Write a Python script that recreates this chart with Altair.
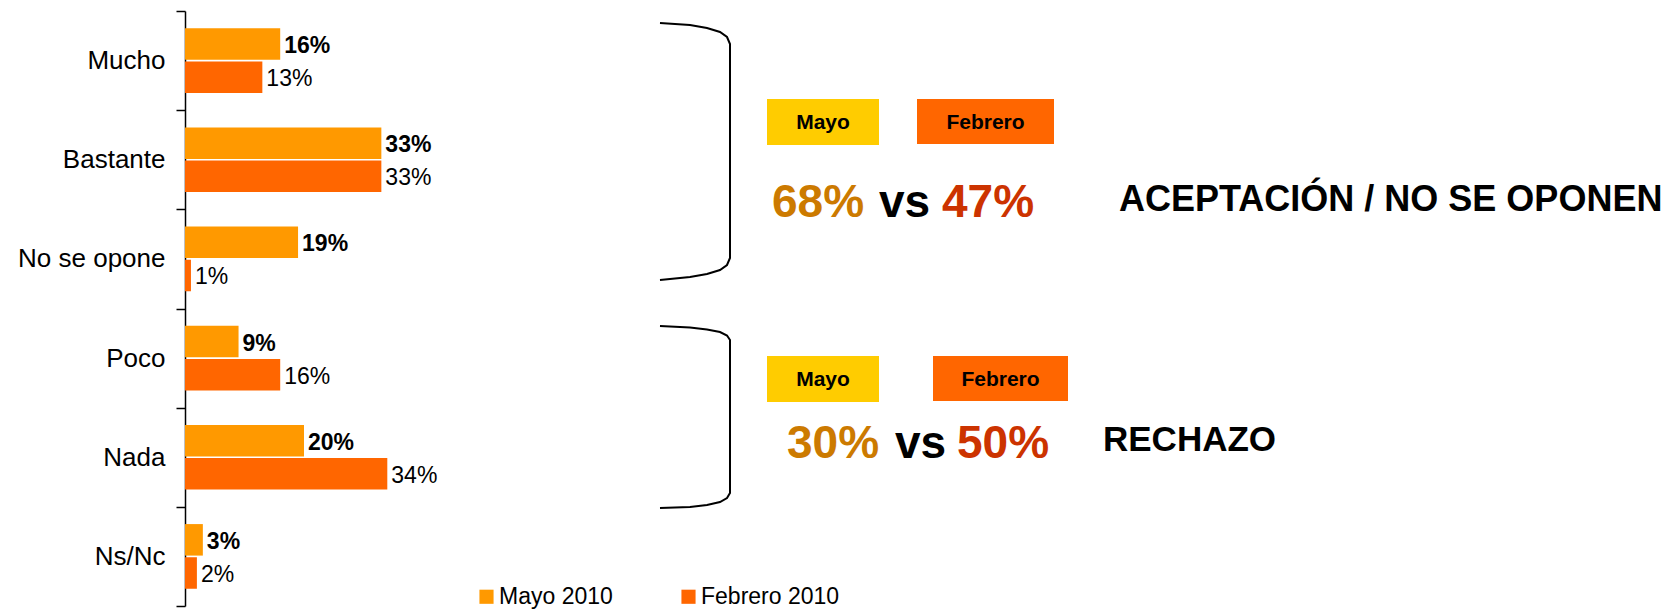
import altair as alt
import pandas as pd

# ---------------- data ----------------
categories = ["Mucho", "Bastante", "No se opone", "Poco", "Nada", "Ns/Nc"]
series = ["Mayo 2010", "Febrero 2010"]
mayo = [16, 33, 19, 9, 20, 3]
febrero = [13, 33, 1, 16, 34, 2]

group_titles = ["ACEPTACIÓN / NO SE OPONEN", "RECHAZO"]
group_mayo = ["68%", "30%"]
group_feb = ["47%", "50%"]
box_labels = ["Mayo", "Febrero"]

# ---------------- styles ----------------
series_colors = ["#FF9900", "#FF6600"]
box_colors = ["#FFCC00", "#FF6600"]
num_colors = ["#CC7A00", "#CC3300"]
FONT = "Liberation Sans, Arial, sans-serif"

rows = []
for i, c in enumerate(categories):
    rows.append({"category": c, "series": series[0], "value": mayo[i], "label": f"{mayo[i]}%"})
    rows.append({"category": c, "series": series[1], "value": febrero[i], "label": f"{febrero[i]}%"})
df = pd.DataFrame(rows)

x_enc = alt.X("value:Q", scale=alt.Scale(domain=[0, 100], range=[0, 595]), axis=None)
y_enc = alt.Y(
    "category:N",
    sort=categories,
    scale=alt.Scale(paddingInner=0, paddingOuter=0),
    axis=alt.Axis(
        title=None,
        tickBand="extent",
        domainColor="black",
        domainWidth=1.5,
        tickColor="black",
        tickWidth=1.5,
        tickSize=9,
        labelFont=FONT,
        labelFontSize=26,
        labelColor="black",
        labelPadding=11,
        grid=False,
    ),
)
yoff_enc = alt.YOffset("series:N", sort=series, scale=alt.Scale(paddingInner=0.05, paddingOuter=0.52))

base = alt.Chart(df)
bars = base.mark_bar().encode(
    x=x_enc,
    y=y_enc,
    yOffset=yoff_enc,
    color=alt.Color(
        "series:N",
        sort=series,
        scale=alt.Scale(domain=series, range=series_colors),
        legend=alt.Legend(
            title=None,
            orient="none",
            legendX=290,
            legendY=574,
            direction="horizontal",
            symbolType="square",
            symbolSize=200,
            symbolStrokeWidth=0,
            labelFont=FONT,
            labelFontSize=23,
            labelColor="black",
            columnPadding=64,
            labelOffset=1,
            padding=0,
        ),
    ),
)
lab_mayo = base.transform_filter(alt.datum.series == series[0]).mark_text(
    align="left", baseline="middle", dx=4, dy=2, font=FONT, fontSize=23, fontWeight="bold", color="black"
).encode(x=x_enc, y=y_enc, yOffset=yoff_enc, text="label:N")
lab_feb = base.transform_filter(alt.datum.series == series[1]).mark_text(
    align="left", baseline="middle", dx=4, dy=2, font=FONT, fontSize=23, color="black"
).encode(x=x_enc, y=y_enc, yOffset=yoff_enc, text="label:N")

data_layer = alt.layer(bars, lab_mayo, lab_feb)

# ---------------- annotation layout (pixels in plot area) ----------------
brace_pts = {
    0: [(475, 12), (505, 14), (522, 17), (535, 21), (542, 26), (545, 33),
        (545, 247), (542, 254), (535, 259), (522, 263), (505, 266), (475, 269)],
    1: [(475, 315), (505, 316.5), (522, 318.5), (535, 321), (542, 324.5), (545, 329),
        (545, 482), (542, 487), (535, 491), (522, 494), (505, 496), (475, 497)],
}
brace_df = pd.DataFrame(
    [{"b": b, "i": i, "px": p[0], "py": p[1]} for b, pts in brace_pts.items() for i, p in enumerate(pts)]
)
braces = alt.Chart(brace_df).mark_line(color="black", strokeWidth=2, interpolate="linear").encode(
    x=alt.X("px:Q", scale=None), y=alt.Y("py:Q", scale=None), detail="b:N", order="i:Q"
)

box_rects = [(582, 88, 694, 134), (732, 88, 869, 133), (582, 345, 694, 391), (748, 345, 883, 390)]
box_df = pd.DataFrame([
    {"x1": r[0], "y1": r[1], "x2": r[2], "y2": r[3],
     "fill": box_colors[k % 2], "txt": box_labels[k % 2],
     "cx": (r[0] + r[2]) / 2, "cy": (r[1] + r[3]) / 2 + 7}
    for k, r in enumerate(box_rects)
])
boxes = alt.Chart(box_df).mark_rect().encode(
    x=alt.X("x1:Q", scale=None), x2="x2:Q", y=alt.Y("y1:Q", scale=None), y2="y2:Q",
    fill=alt.Fill("fill:N", scale=None),
)
box_text = alt.Chart(box_df).mark_text(
    align="center", baseline="alphabetic", font=FONT, fontSize=21, fontWeight="bold", color="black"
).encode(x=alt.X("cx:Q", scale=None), y=alt.Y("cy:Q", scale=None), text="txt:N")

num_pos = [((587, 694, 757), 206), ((602, 710, 772), 447)]
num_rows = []
for g in range(2):
    xs, yb = num_pos[g]
    num_rows.append({"nx": xs[0], "ny": yb, "t": group_mayo[g], "c": num_colors[0]})
    num_rows.append({"nx": xs[1], "ny": yb, "t": "vs", "c": "#000000"})
    num_rows.append({"nx": xs[2], "ny": yb, "t": group_feb[g], "c": num_colors[1]})
num_df = pd.DataFrame(num_rows)
nums = alt.Chart(num_df).mark_text(
    align="left", baseline="alphabetic", font=FONT, fontSize=46, fontWeight="bold"
).encode(
    x=alt.X("nx:Q", scale=None), y=alt.Y("ny:Q", scale=None), text="t:N", color=alt.Color("c:N", scale=None)
)

title_pos = [(934, 200, 36), (918, 440, 35)]
title_df = pd.DataFrame([{"tx": p[0], "ty": p[1], "fs": p[2], "t": group_titles[g]} for g, p in enumerate(title_pos)])
titles = alt.Chart(title_df).mark_text(
    align="left", baseline="alphabetic", font=FONT, fontWeight="bold", color="black"
).encode(
    x=alt.X("tx:Q", scale=None), y=alt.Y("ty:Q", scale=None), text="t:N",
    size=alt.Size("fs:Q", scale=None),
)

annot = alt.layer(braces, boxes, box_text, nums, titles)

chart = alt.layer(data_layer, annot).resolve_scale(
    x="independent", y="independent", color="independent"
).properties(
    width=1480,
    height=595,
    autosize=alt.AutoSizeParams(type="none"),
    padding={"left": 177, "top": 3, "right": 0, "bottom": 6},
    background="white",
).configure_view(stroke=None)

chart.save("out.html", embed_options={"renderer": "svg", "actions": False})
